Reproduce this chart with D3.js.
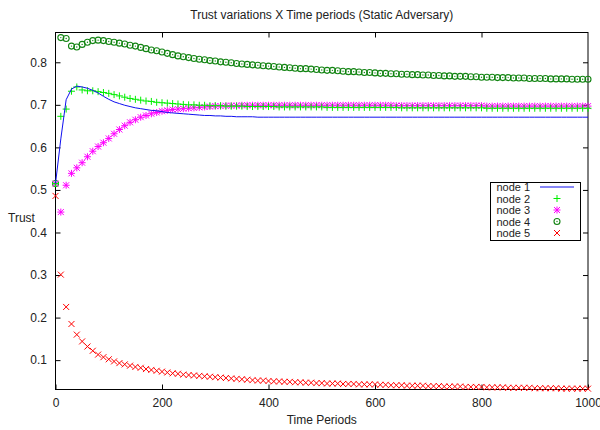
<!DOCTYPE html>
<html>
<head>
<meta charset="utf-8">
<script src="https://cdn.jsdelivr.net/npm/d3@7"></script>
<style>
body { margin: 0; background: #fff; }
svg text { font-family: "Liberation Sans", Arial, sans-serif; font-size: 12px; fill: #222; }
</style>
</head>
<body>
<div id="chart"></div>
<script>
// sampling grid: one sample every 10 time periods
var times = d3.range(0, 1001, 10);

var node1 = [0.515,0.620,0.712,0.737,0.744,0.742,0.739,0.734,0.728,0.720,
0.713,0.707,0.703,0.699,0.696,0.693,0.691,0.689,0.687,0.686,
0.684,0.682,0.681,0.680,0.679,0.678,0.677,0.676,0.675,0.675,
0.674,0.674,0.673,0.673,0.672,0.672,0.672,0.672,0.671,0.671,
0.671,0.671,0.671,0.671,0.671,0.671,0.671,0.671,0.671,0.671,
0.671,0.671,0.671,0.671,0.671,0.671,0.671,0.671,0.671,0.671,
0.671,0.671,0.671,0.671,0.671,0.671,0.671,0.671,0.671,0.671,
0.671,0.671,0.671,0.671,0.671,0.671,0.671,0.671,0.671,0.671,
0.671,0.671,0.671,0.671,0.671,0.671,0.671,0.671,0.671,0.671,
0.671,0.671,0.671,0.671,0.671,0.671,0.671,0.671,0.671,0.671,0.671];

var node2 = [0.515,0.673,0.690,0.732,0.742,0.735,0.733,0.733,0.731,0.729,
0.727,0.724,0.721,0.718,0.715,0.713,0.711,0.709,0.708,0.706,
0.705,0.704,0.703,0.702,0.701,0.700,0.700,0.699,0.699,0.698,
0.698,0.698,0.697,0.697,0.697,0.697,0.696,0.696,0.696,0.696,
0.696,0.696,0.695,0.695,0.695,0.695,0.695,0.695,0.695,0.695,
0.695,0.694,0.694,0.694,0.694,0.694,0.694,0.694,0.694,0.694,
0.694,0.694,0.694,0.694,0.694,0.693,0.693,0.693,0.693,0.693,
0.693,0.693,0.693,0.693,0.693,0.693,0.693,0.693,0.693,0.693,
0.693,0.692,0.692,0.692,0.692,0.692,0.692,0.692,0.692,0.692,
0.692,0.692,0.692,0.692,0.692,0.692,0.692,0.692,0.692,0.692,0.692];

var node3 = [0.515,0.448,0.511,0.539,0.552,0.564,0.578,0.591,0.602,0.611,
0.621,0.632,0.642,0.651,0.659,0.665,0.671,0.675,0.679,0.682,
0.685,0.687,0.689,0.690,0.691,0.692,0.693,0.694,0.695,0.696,
0.697,0.697,0.698,0.698,0.698,0.699,0.699,0.699,0.699,0.699,
0.699,0.699,0.699,0.699,0.699,0.699,0.699,0.699,0.699,0.699,
0.699,0.699,0.699,0.699,0.699,0.699,0.699,0.699,0.699,0.699,
0.699,0.699,0.699,0.699,0.698,0.698,0.698,0.698,0.698,0.698,
0.698,0.698,0.698,0.698,0.698,0.698,0.698,0.698,0.698,0.698,
0.698,0.697,0.697,0.697,0.697,0.697,0.697,0.697,0.697,0.697,
0.697,0.697,0.697,0.697,0.697,0.697,0.697,0.697,0.697,0.697,0.697];

var node4 = [0.515,0.858,0.856,0.838,0.836,0.842,0.847,0.851,0.852,0.851,
0.849,0.847,0.845,0.843,0.840,0.838,0.835,0.832,0.829,0.827,
0.824,0.821,0.818,0.815,0.813,0.811,0.809,0.807,0.806,0.804,
0.803,0.801,0.800,0.799,0.797,0.796,0.795,0.794,0.793,0.792,
0.791,0.790,0.789,0.788,0.787,0.786,0.785,0.785,0.784,0.783,
0.782,0.781,0.781,0.780,0.779,0.778,0.778,0.777,0.776,0.776,
0.775,0.774,0.774,0.773,0.773,0.772,0.772,0.771,0.771,0.770,
0.770,0.769,0.769,0.768,0.768,0.767,0.767,0.767,0.766,0.766,
0.765,0.765,0.765,0.764,0.764,0.764,0.763,0.763,0.763,0.762,
0.762,0.762,0.762,0.761,0.761,0.761,0.761,0.760,0.760,0.760,0.760];

var node5 = [0.486,0.301,0.225,0.185,0.160,0.144,0.132,0.122,0.113,0.107,
0.102,0.097,0.093,0.090,0.087,0.084,0.082,0.079,0.077,0.075,
0.073,0.071,0.069,0.068,0.066,0.065,0.064,0.063,0.062,0.061,
0.060,0.059,0.058,0.057,0.056,0.055,0.054,0.053,0.052,0.052,
0.051,0.050,0.050,0.049,0.049,0.048,0.048,0.047,0.047,0.046,
0.046,0.045,0.045,0.045,0.044,0.044,0.044,0.043,0.043,0.043,
0.043,0.042,0.042,0.041,0.041,0.041,0.040,0.040,0.040,0.040,
0.039,0.039,0.039,0.038,0.038,0.038,0.038,0.037,0.037,0.037,
0.037,0.036,0.036,0.036,0.036,0.035,0.035,0.035,0.035,0.035,
0.034,0.034,0.034,0.034,0.034,0.033,0.033,0.033,0.033,0.033,0.033];

var xTicks = [0, 200, 400, 600, 800, 1000];
var yTicks = [0.1, 0.2, 0.3, 0.4, 0.5, 0.6, 0.7, 0.8];
var legendNames = ["node 1", "node 2", "node 3", "node 4", "node 5"];

var width = 600, height = 430;
var pLeft = 55.5, pRight = 588, pTop = 32.5, pBottom = 389.5;

var svg = d3.select("#chart").append("svg")
  .attr("width", width).attr("height", height);

var x = d3.scaleLinear().domain([0, 1000]).range([pLeft, pRight]);
var y = d3.scaleLinear().domain([0.031, 0.87]).range([pBottom, pTop]);

// axes, ticks pointing inward and mirrored on top / right
function styleAxis(g) {
  g.select(".domain").remove();
  g.selectAll(".tick line").attr("stroke", "#000");
  g.selectAll(".tick text").attr("fill", "#222").style("font-size", "12px")
    .style("font-family", "Liberation Sans, Arial, sans-serif");
}
svg.append("g").attr("transform", "translate(0," + pBottom + ")")
  .call(d3.axisBottom(x).tickValues(xTicks).tickSize(-5).tickPadding(9).tickFormat(d3.format("d")))
  .call(styleAxis);
svg.append("g").attr("transform", "translate(0," + pTop + ")")
  .call(d3.axisTop(x).tickValues(xTicks.slice(1, -1)).tickSize(-5).tickFormat(""))
  .call(styleAxis);
svg.append("g").attr("transform", "translate(" + pLeft + ",0)")
  .call(d3.axisLeft(y).tickValues(yTicks).tickSize(-5).tickPadding(8.5).tickFormat(d3.format(".1f")))
  .call(styleAxis);
svg.append("g").attr("transform", "translate(" + pRight + ",0)")
  .call(d3.axisRight(y).tickValues(yTicks).tickSize(-5).tickFormat(""))
  .call(styleAxis);

svg.append("rect").attr("x", pLeft).attr("y", pTop)
  .attr("width", pRight - pLeft).attr("height", pBottom - pTop)
  .attr("fill", "none").attr("stroke", "#000").attr("stroke-width", 1);

// titles
svg.append("text").attr("x", (pLeft + pRight) / 2).attr("y", 19)
  .attr("text-anchor", "middle").text("Trust variations X Time periods (Static Adversary)");
svg.append("text").attr("x", (pLeft + pRight) / 2).attr("y", 424)
  .attr("text-anchor", "middle").text("Time Periods");
svg.append("text").attr("x", 21.5).attr("y", 222)
  .attr("text-anchor", "middle").text("Trust");

// symbol painters
function plus(g, cx, cy, c) {
  g.append("path").attr("d", "M" + (cx - 3.5) + "," + cy + "h7M" + cx + "," + (cy - 3.5) + "v7")
    .attr("stroke", c).attr("stroke-width", 1).attr("fill", "none");
}
function cross(g, cx, cy, c) {
  g.append("path").attr("d", "M" + (cx - 3) + "," + (cy - 3) + "l6,6M" + (cx - 3) + "," + (cy + 3) + "l6,-6")
    .attr("stroke", c).attr("stroke-width", 1).attr("fill", "none");
}
function star(g, cx, cy, c) {
  plus(g, cx, cy, c);
  cross(g, cx, cy, c);
}
function ring(g, cx, cy, c) {
  g.append("circle").attr("cx", cx).attr("cy", cy).attr("r", 3)
    .attr("stroke", c).attr("stroke-width", 1.1).attr("fill", "none");
  g.append("circle").attr("cx", cx).attr("cy", cy).attr("r", 0.7).attr("fill", c);
}

var blue = "#1010f0", lime = "#00ee00", magenta = "#ff00ff", dkgreen = "#128412", red = "#ff0000";

var plot = svg.append("g");

// node 4 circles
var g4 = plot.append("g");
times.forEach(function(t, i) { ring(g4, x(t), y(node4[i]), dkgreen); });
// node 3 stars
var g3 = plot.append("g");
times.forEach(function(t, i) { star(g3, x(t), y(node3[i]), magenta); });
// node 2 plus
var g2 = plot.append("g");
times.forEach(function(t, i) { plus(g2, x(t), y(node2[i]), lime); });
// node 5 crosses
var g5 = plot.append("g");
times.forEach(function(t, i) { cross(g5, x(t), y(node5[i]), red); });
// node 1 line
var line1 = d3.line().x(function(d, i) { return x(times[i]); }).y(function(d) { return y(d); });
plot.append("path").datum(node1).attr("d", line1)
  .attr("fill", "none").attr("stroke", blue).attr("stroke-width", 1);

// legend
var lg = svg.append("g");
lg.append("rect").attr("x", 490.5).attr("y", 182.5).attr("width", 90).attr("height", 58)
  .attr("fill", "#fff").attr("stroke", "#000");
var painters = [null, plus, star, ring, cross];
var colors = [blue, lime, magenta, dkgreen, red];
legendNames.forEach(function(n, i) {
  var cy = 187 + i * 11.5;
  lg.append("text").attr("x", 496.5).attr("y", cy + 4).style("font-size", "11px").text(n);
  if (i === 0) {
    lg.append("line").attr("x1", 540).attr("x2", 574).attr("y1", cy).attr("y2", cy)
      .attr("stroke", blue).attr("stroke-width", 1);
  } else {
    painters[i](lg, 557, cy, colors[i]);
  }
});
</script>
</body>
</html>
